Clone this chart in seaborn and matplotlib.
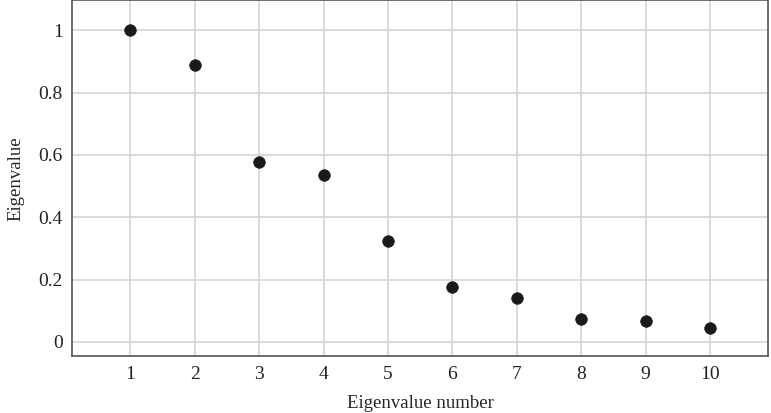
import matplotlib
matplotlib.use('Agg')
import matplotlib.pyplot as plt
import seaborn as sns
import pandas as pd

eig_number = [1, 2, 3, 4, 5, 6, 7, 8, 9, 10]
eig_value = [1.0, 0.888, 0.577, 0.535, 0.324, 0.176, 0.140, 0.074, 0.068, 0.045]

sns.set_style('whitegrid')
plt.rcParams['font.family'] = ['Liberation Serif', 'DejaVu Serif']

df = pd.DataFrame({'n': eig_number, 'v': eig_value})

fig, ax = plt.subplots(figsize=(7.71, 4.13), dpi=100)
sns.scatterplot(data=df, x='n', y='v', ax=ax, color='#1a1a1a', s=70,
                edgecolor='#1a1a1a', linewidth=0.5, zorder=3)

ax.set_xlim(0.1, 10.9)
ax.set_ylim(-0.045, 1.096)
ax.set_xticks(eig_number)
ax.set_yticks([0, 0.2, 0.4, 0.6, 0.8, 1])
ax.set_yticklabels(['0', '0.2', '0.4', '0.6', '0.8', '1'])
ax.grid(True, color='#d4d4d4', linewidth=1.2)
for sp in ax.spines.values():
    sp.set_color('#555555')
    sp.set_linewidth(1.2)
ax.tick_params(axis='both', length=0, labelsize=14, pad=7, colors='#222222')
ax.set_xlabel('Eigenvalue number', fontsize=13.5, labelpad=9)
ax.set_ylabel('Eigenvalue', fontsize=13.5, labelpad=10)

fig.subplots_adjust(left=0.094, right=0.996, top=0.999, bottom=0.138)
fig.savefig('out.png', dpi=100)
